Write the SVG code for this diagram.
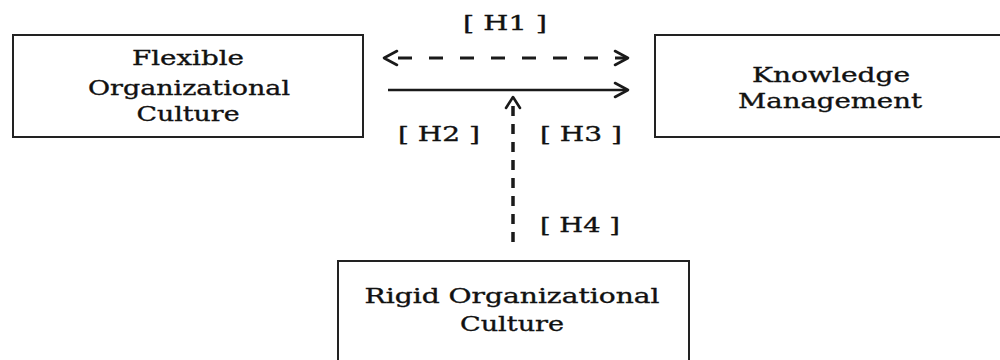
<svg xmlns="http://www.w3.org/2000/svg" width="1000" height="360" viewBox="0 0 1000 360">
<style>
.box{fill:#fff;stroke:#222;stroke-width:2}
.t{font-family:"DejaVu Serif","Liberation Serif",serif;font-size:20px;fill:#111;stroke:#111;stroke-width:0.35;text-anchor:middle}
.ln{stroke:#1a1a1a;fill:none}
.ah{stroke:#1a1a1a;stroke-width:2.6;fill:none;stroke-linecap:round;stroke-linejoin:round}
</style>
<rect width="1000" height="360" fill="#fff"/>
<g id="flexible">
<rect class="box" x="13" y="35" width="350" height="102"/>
<text class="t" x="188" y="65" textLength="112" lengthAdjust="spacingAndGlyphs">Flexible</text>
<text class="t" x="189" y="95" textLength="202" lengthAdjust="spacingAndGlyphs">Organizational</text>
<text class="t" x="188" y="121" textLength="103" lengthAdjust="spacingAndGlyphs">Culture</text>
</g>
<g id="knowledge">
<rect class="box" x="655" y="35" width="360" height="102"/>
<text class="t" x="831" y="82" textLength="158" lengthAdjust="spacingAndGlyphs">Knowledge</text>
<text class="t" x="830" y="108" textLength="184" lengthAdjust="spacingAndGlyphs">Management</text>
</g>
<g id="rigid">
<rect class="box" x="338" y="261" width="351" height="110"/>
<text class="t" x="512" y="303" textLength="295" lengthAdjust="spacingAndGlyphs">Rigid Organizational</text>
<text class="t" x="512" y="331" textLength="104" lengthAdjust="spacingAndGlyphs">Culture</text>
</g>
<g id="connectors">
<line class="ln" x1="386" y1="58" x2="626" y2="58" style="stroke-width:3;stroke-dasharray:14 17;stroke-dashoffset:-12"/>
<polyline class="ah" points="397,51 384,58 397,65"/>
<polyline class="ah" points="615,51 628,58 615,65"/>
<line class="ln" x1="388" y1="90" x2="627" y2="90" style="stroke-width:2.5"/>
<polyline class="ah" points="615,83 628,90 615,97"/>
<line class="ln" x1="513" y1="100" x2="513" y2="244" style="stroke-width:3.5;stroke-dasharray:10 8;stroke-dashoffset:-6"/>
<polyline class="ah" points="506,108 513,97 520,108"/>
</g>
<g id="labels">
<text class="t" x="505" y="30" textLength="84" lengthAdjust="spacingAndGlyphs">[ H1 ]</text>
<text class="t" x="439" y="141" textLength="82" lengthAdjust="spacingAndGlyphs">[ H2 ]</text>
<text class="t" x="581" y="141" textLength="82" lengthAdjust="spacingAndGlyphs">[ H3 ]</text>
<text class="t" x="580" y="232" textLength="80" lengthAdjust="spacingAndGlyphs">[ H4 ]</text>
</g>
</svg>
